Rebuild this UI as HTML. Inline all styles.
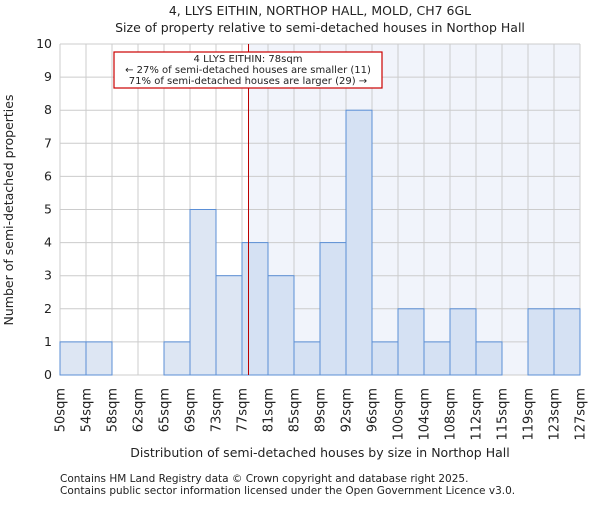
<!DOCTYPE html>
<html><head><meta charset="utf-8"><style>
body{margin:0;background:#fff}
svg text{font-family:"DejaVu Sans","Liberation Sans",sans-serif;fill:#222}
</style></head><body>
<svg id="chart" width="600" height="500">
<text x="320" y="15" font-size="12.5" text-anchor="middle">4, LLYS EITHIN, NORTHOP HALL, MOLD, CH7 6GL</text>
<text x="320" y="32" font-size="12.5" text-anchor="middle">Size of property relative to semi-detached houses in Northop Hall</text>
<g id="plot"></g>
<text x="320" y="457" font-size="12.5" text-anchor="middle">Distribution of semi-detached houses by size in Northop Hall</text>
<text transform="translate(13,210) rotate(-90)" font-size="12.5" text-anchor="middle">Number of semi-detached properties</text>
<text x="60" y="482" font-size="10.5" fill="#444">Contains HM Land Registry data © Crown copyright and database right 2025.</text>
<text x="60" y="494" font-size="10.5" fill="#444">Contains public sector information licensed under the Open Government Licence v3.0.</text>
</svg>
<script>
const categories=["50sqm","54sqm","58sqm","62sqm","65sqm","69sqm","73sqm","77sqm","81sqm","85sqm","89sqm","92sqm","96sqm","100sqm","104sqm","108sqm","112sqm","115sqm","119sqm","123sqm","127sqm"];
const counts=[1,1,0,0,1,5,3,4,3,1,4,8,1,2,1,2,1,0,2,2];
const yTicks=[0,1,2,3,4,5,6,7,8,9,10];
const markerValue=7.25; // bin index position of 78sqm
const annotation=["4 LLYS EITHIN: 78sqm","← 27% of semi-detached houses are smaller (11)","71% of semi-detached houses are larger (29) →"];
const L=60,R=580,T=44,B=375,yMax=10;
const bw=(R-L)/counts.length;
const x=i=>L+i*bw, y=v=>B-(B-T)*v/yMax;
const NS="http://www.w3.org/2000/svg", g=document.getElementById('plot');
function mk(t,a,txt){const e=document.createElementNS(NS,t);for(const k in a)e.setAttribute(k,a[k]);if(txt!=null)e.textContent=txt;g.appendChild(e);return e;}
const mx=x(markerValue);
let e=mk('rect',{x:mx,y:T,width:R-mx,height:B-T,fill:'#f1f4fb'});


yTicks.forEach(t=>{const l=mk('line',{x1:L,x2:R,y1:y(t),y2:y(t),stroke:'#ccc','stroke-width':1});


const tx=mk('text',{x:L-8,y:y(t)+4,'font-size':12.5,'text-anchor':'end'},t);

});
categories.forEach((c,i)=>{const l=mk('line',{x1:x(i),x2:x(i),y1:T,y2:B,stroke:'#ccc','stroke-width':1});


const tx=mk('text',{transform:`translate(${x(i)+4.5},388) rotate(-90)`,'font-size':13,'text-anchor':'end'},c);

});
counts.forEach((v,i)=>{if(v<=0)return;const r=mk('rect',{x:x(i),y:y(v),width:bw,height:B-y(v),fill:i+0.5>markerValue?'#d5e1f3':'#dde6f3',stroke:'#5b8fd6','stroke-width':1});

});
e=mk('line',{x1:mx,x2:mx,y1:T,y2:B,stroke:'#b00','stroke-width':1});


e=mk('rect',{x:114,y:52,width:268,height:36,fill:'#fff',stroke:'#c00','stroke-width':1.2});


annotation.forEach((s,k)=>{const t=mk('text',{x:248,y:62+k*11,'font-size':10,'text-anchor':'middle'},s);

});
</script>
</body></html>
